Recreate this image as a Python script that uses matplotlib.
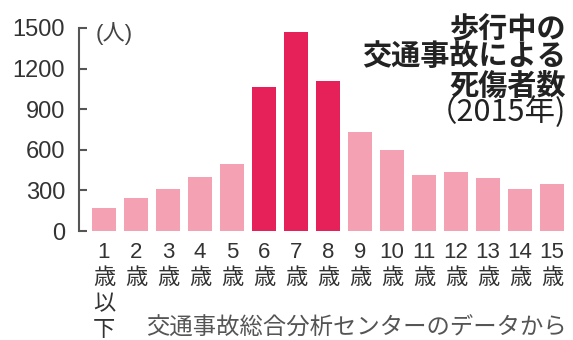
import matplotlib
matplotlib.use("Agg")
import matplotlib.pyplot as plt

ages = ["1", "2", "3", "4", "5", "6", "7", "8", "9", "10", "11", "12", "13", "14", "15"]
age_suffix = ["歳\n以\n下"] + ["歳"] * 14
casualties = [170, 245, 310, 400, 495, 1064, 1470, 1108, 732, 598, 414, 436, 391, 310, 347]
highlight = [False] * 5 + [True, True, True] + [False] * 7
yticks = [0, 300, 600, 900, 1200, 1500]

title_lines = ["歩行中の", "交通事故による", "死傷者数"]
title_year = "（2015年)"
unit_label = "(人)"
source = "交通事故総合分析センターのデータから"

LIGHT = "#F4A2B3"
DARK = "#E6215A"
FAM = ["Liberation Sans", "Noto Sans CJK JP"]
plt.rcParams["font.family"] = FAM

W, H = 573, 340
fig = plt.figure(figsize=(W / 100, H / 100), dpi=100)
ax = fig.add_axes([79 / W, (H - 231) / H, 489 / W, 203 / H])

x = list(range(len(ages)))
colors = [DARK if h else LIGHT for h in highlight]
ax.bar(x, casualties, width=0.75, color=colors, zorder=2)

ax.set_xlim(-0.78, 14.5)
ax.set_ylim(0, 1500)
for s in ["top", "right", "bottom"]:
    ax.spines[s].set_visible(False)
ax.spines["left"].set_color("#555555")
ax.spines["left"].set_linewidth(1.5)

ax.set_yticks(yticks)
ax.set_yticklabels([str(v) for v in yticks], fontsize=17, color="#333333")
ax.tick_params(axis="y", direction="in", length=6, width=1.5, color="#555555", pad=10)

ax.set_xticks(x)
ax.set_xticklabels([a + "\n" + s for a, s in zip(ages, age_suffix)],
                   fontsize=16, color="#333333", linespacing=1.3, va="top")
ax.tick_params(axis="x", length=0, pad=8)

fig.text(114 / W, 1 - 34 / H, unit_label, fontsize=16, color="#444444",
         ha="center", va="center")

baselines = [38, 65, 95]
for t, yy in zip(title_lines, baselines):
    fig.text(566 / W, 1 - yy / H, t, fontsize=21, fontweight="bold",
             color="#222222", ha="right", va="baseline", family="Noto Sans CJK JP")
fig.text(566 / W, 1 - 121 / H, title_year, fontsize=22, color="#222222",
         ha="right", va="baseline", family="Noto Sans CJK JP")

fig.text(567 / W, 1 - 328 / H, source, fontsize=16.8, color="#555555",
         ha="right", va="center", family="Noto Sans CJK JP")

fig.savefig("out.png", dpi=100)
